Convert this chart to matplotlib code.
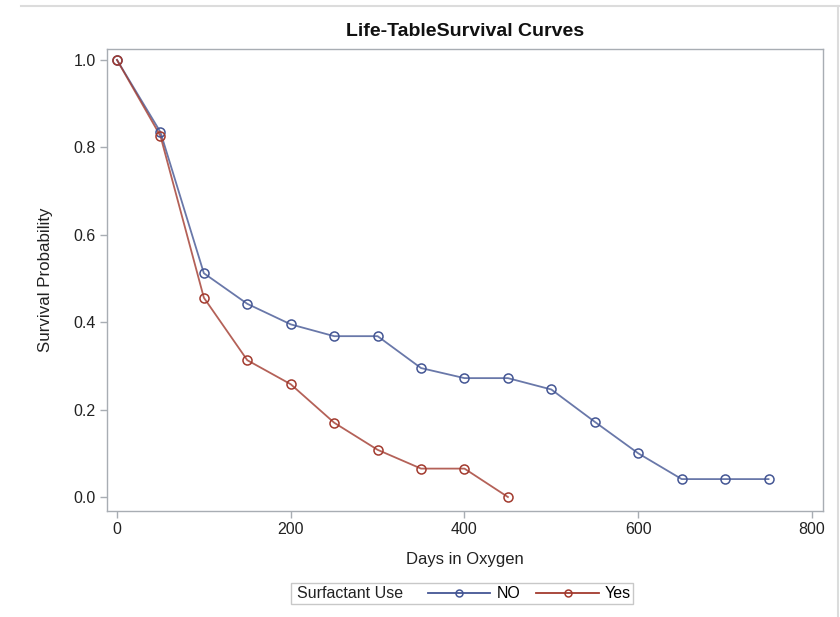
"""Life-table survival curves by surfactant use."""
import matplotlib
matplotlib.use("Agg")
import matplotlib.pyplot as plt
from matplotlib.lines import Line2D
from matplotlib.patches import Rectangle

plt.rcParams["font.family"] = ["Liberation Sans", "DejaVu Sans"]

days_no = [0, 50, 100, 150, 200, 250, 300, 350, 400, 450, 500, 550, 600, 650, 700, 750]
surv_no = [1.0, 0.835, 0.512, 0.442, 0.395, 0.368, 0.368, 0.295, 0.272, 0.272,
           0.246, 0.172, 0.100, 0.041, 0.041, 0.041]
days_yes = [0, 50, 100, 150, 200, 250, 300, 350, 400, 450]
surv_yes = [1.0, 0.826, 0.456, 0.313, 0.258, 0.170, 0.108, 0.065, 0.065, 0.0]

BLUE = "#445694"
RED = "#A23A2E"
W, H = 840, 617

fig = plt.figure(figsize=(W / 100, H / 100), dpi=100)
ax = fig.add_axes([107 / W, 1 - 511 / H, (823 - 107) / W, (511 - 49) / H])

for x, y, c in [(days_no, surv_no, BLUE), (days_yes, surv_yes, RED)]:
    ax.plot(x, y, color=c, lw=1.3, alpha=0.8, zorder=3)
    ax.plot(x, y, ls="none", marker="o", ms=6.5, mfc="none", mec=c, mew=1.1, zorder=4)

ax.set_xlim(-11.5, 812.7)
ax.set_ylim(-0.032, 1.025)
ax.set_xticks([0, 200, 400, 600, 800])
ax.set_yticks([0.0, 0.2, 0.4, 0.6, 0.8, 1.0])
ax.set_yticklabels(["0.0", "0.2", "0.4", "0.6", "0.8", "1.0"])
for s in ax.spines.values():
    s.set_color("#a8adb3")
    s.set_linewidth(1.0)
ax.tick_params(direction="out", length=5, width=1, color="#a8adb3",
               labelsize=11.5, labelcolor="#222222", pad=3)
ax.set_xlabel("Days in Oxygen", fontsize=12, color="#222222", labelpad=11)
ax.set_ylabel("Survival Probability", fontsize=12.2, color="#222222", labelpad=15)
ax.set_title("Life-TableSurvival Curves", fontsize=14, fontweight="bold",
             color="#111111", pad=9)

# outer border lines
fig.add_artist(Line2D([21 / W, 1], [1 - 6 / H, 1 - 6 / H], color="#dcdcdc", lw=1.5))
fig.add_artist(Line2D([838 / W, 838 / W], [0, 1 - 6 / H], color="#dcdcdc", lw=1.5))

# legend box
fig.add_artist(Rectangle((291 / W, 1 - 604 / H), (633 - 291) / W, (604 - 583) / H,
                         transform=fig.transFigure, fill=False, ec="#c8c8c8", lw=1))
fig.text(297 / W, 1 - 594 / H, "Surfactant Use", fontsize=11.5, color="#222222",
         va="center", ha="left")
handles = [Line2D([], [], color=c, lw=1.3, marker="o", ms=5, mfc="none", mec=c, mew=1.1)
           for c in (BLUE, RED)]
fig.legend(handles, ["NO", "Yes"], loc="center left",
           bbox_to_anchor=(428 / W, 1 - 594 / H), ncol=2, frameon=False,
           fontsize=11.5, handlelength=3.9, handletextpad=0.4, columnspacing=1.0,
           borderpad=0, borderaxespad=0)

fig.savefig("out.png", dpi=100)
